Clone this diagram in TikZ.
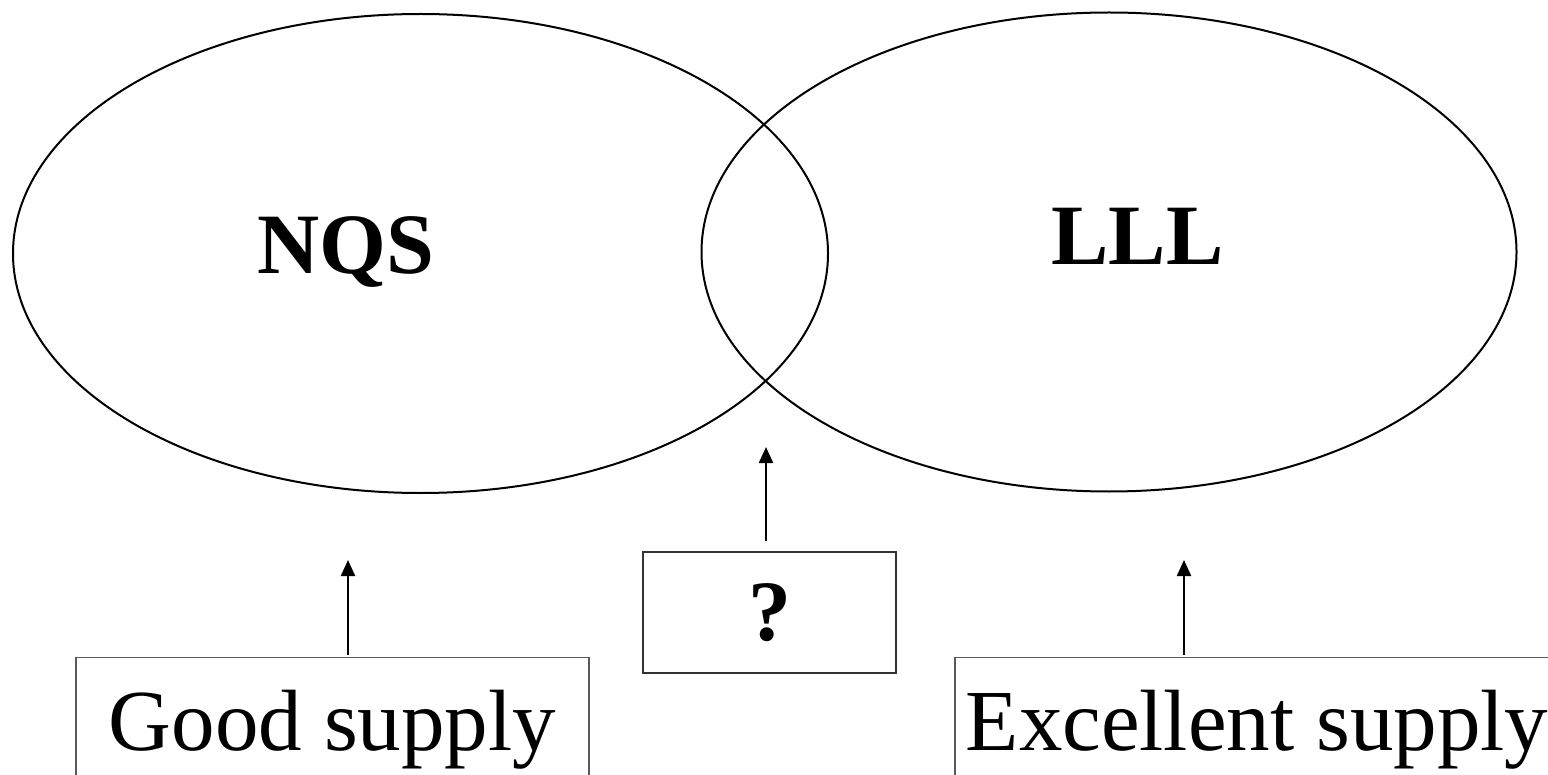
\documentclass[tikz,border=0pt]{standalone}
\usepackage{fontspec}
\setmainfont{Liberation Serif}
\usetikzlibrary{arrows.meta,shapes.geometric,positioning,calc}
\tikzset{
  setell/.style={draw, ellipse, line width=1pt, inner sep=0pt, outer sep=0pt,
                 minimum width=407.5pt, minimum height=239.5pt},
  setlbl/.style={font=\fontsize{43}{47}\selectfont\bfseries, anchor=base, inner sep=0pt},
  supbox/.style={draw=black!65, line width=0.6pt, anchor=north, font=\fontsize{43.5}{47}\selectfont,
                 text height=29pt, text depth=80pt, inner ysep=17.5pt},
  qbox/.style={draw=black!80, line width=0.6pt, font=\fontsize{43}{47}\selectfont\bfseries,
               minimum width=126.5pt, minimum height=60.5pt, inner sep=0pt},
  uparr/.style={-{Triangle[length=8pt,width=7pt]}, line width=1.1pt},
}
\begin{document}
\begin{tikzpicture}[x=0.5pt, y=-0.5pt]
    \clip (0,0) rectangle (1548,775);
    \fill[white] (0,0) rectangle (1548,775);
    % the two sets
    \node[setell] (nqsset) at (420.5,253.5) {};
    \node[setell] (lllset) at (1109,252) {};
    \node[setlbl] (nqs) at (346,274) {NQS};
    \node[setlbl] (lll) at (1137.5,265) {LLL};
    % what goes into them
    \node[supbox, minimum width=256.5pt] (good) at (332.5,657) {Good supply};
    \node[supbox, minimum width=302pt] (excel) at (1257,657) {Excellent supply};
    \node[qbox] (query) at (769.5,612.5) {?};
    \coordinate (tipL) at (348,560);
    \coordinate (tipM) at (766,447);
    \coordinate (tipR) at (1184,560);
    \draw[uparr, shorten <=1pt] (tipL |- good.north) -- (tipL);
    \draw[uparr, shorten <=5pt] (tipM |- query.north) -- (tipM);
    \draw[uparr, shorten <=1pt] (tipR |- excel.north) -- (tipR);
\end{tikzpicture}
\end{document}
